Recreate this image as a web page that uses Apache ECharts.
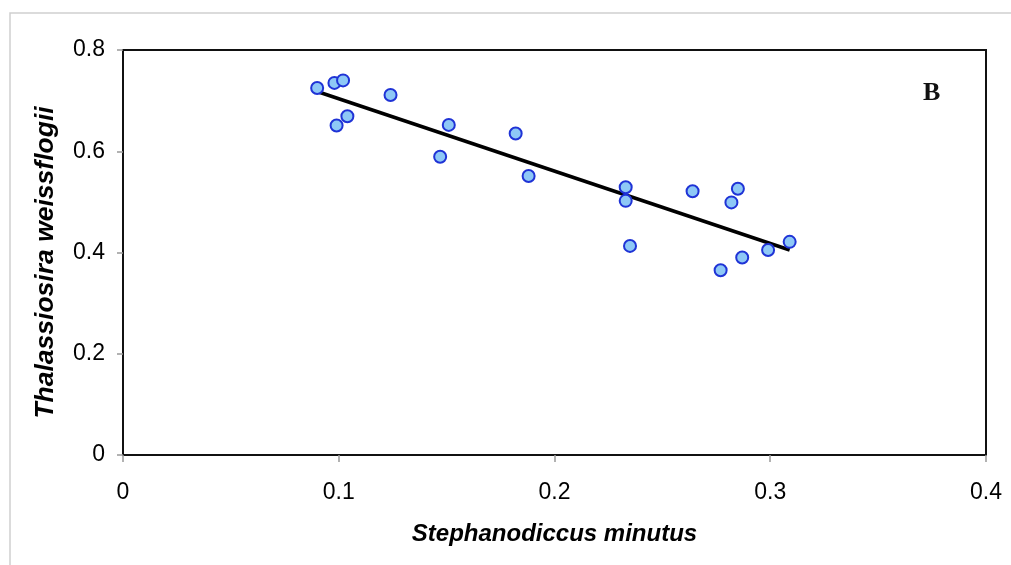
<!DOCTYPE html>
<html>
<head>
<meta charset="utf-8">
<script src="https://cdn.jsdelivr.net/npm/echarts@6/dist/echarts.min.js"></script>
<style>
  html, body { margin: 0; padding: 0; background: #fff; }
  #chart { width: 1011px; height: 565px; }
</style>
</head>
<body>
<div id="chart"></div>
<script>
// Stephanodiccus minutus (x) vs Thalassiosira weissflogii (y)
var xValues = [0.090, 0.098, 0.102, 0.099, 0.104, 0.124, 0.151, 0.147, 0.182, 0.188,
               0.233, 0.233, 0.235, 0.264, 0.285, 0.282, 0.277, 0.287, 0.299, 0.309];
var yValues = [0.725, 0.735, 0.740, 0.651, 0.669, 0.711, 0.652, 0.589, 0.635, 0.551,
               0.529, 0.502, 0.413, 0.521, 0.526, 0.499, 0.365, 0.390, 0.405, 0.421];
// regression line end points
var trendX = [0.090, 0.309];
var trendY = [0.718, 0.405];
var xTicks = [0, 0.1, 0.2, 0.3, 0.4];
var yTicks = [0, 0.2, 0.4, 0.6, 0.8];

var points = xValues.map(function (x, i) { return [x, yValues[i]]; });
var trend = trendX.map(function (x, i) { return [x, trendY[i]]; });

var font = 'Liberation Sans, Arial, sans-serif';

var chart = echarts.init(document.getElementById('chart'));
chart.setOption({
  animation: false,
  backgroundColor: '#fff',
  grid: {
    left: 123, top: 50, right: 25, bottom: 110,
    show: true, borderColor: '#111', borderWidth: 2
  },
  graphic: [
    {
      type: 'rect', silent: true, z: -1,
      shape: { x: 10, y: 13, width: 1100, height: 700 },
      style: { fill: 'none', stroke: '#cfcfcf', lineWidth: 1.5 }
    },
    {
      type: 'text', left: 923, top: 80,
      style: { text: 'B', font: 'bold 26px "Liberation Serif", "Times New Roman", serif', fill: '#111' }
    }
  ],
  xAxis: {
    type: 'value', min: xTicks[0], max: xTicks[xTicks.length - 1], interval: 0.1,
    name: 'Stephanodiccus minutus', nameLocation: 'middle', nameGap: 67,
    nameTextStyle: { fontFamily: font, fontSize: 24, fontWeight: 'bold', fontStyle: 'italic', color: '#000' },
    axisLine: { lineStyle: { color: '#111', width: 2 } },
    axisTick: { show: true, length: 7, inside: false, lineStyle: { color: '#999', width: 1.5 } },
    axisLabel: { fontFamily: font, fontSize: 23, color: '#000', margin: 26 },
    splitLine: { show: false }
  },
  yAxis: {
    type: 'value', min: yTicks[0], max: yTicks[yTicks.length - 1], interval: 0.2,
    name: 'Thalassiosira weissflogii', nameLocation: 'middle', nameGap: 64,
    nameTextStyle: { fontFamily: font, fontSize: 26.5, fontWeight: 'bold', fontStyle: 'italic', color: '#000',
                     padding: [0, 20, 0, 0] },
    axisLine: { lineStyle: { color: '#111', width: 2 } },
    axisTick: { show: true, length: 6, inside: false, lineStyle: { color: '#999', width: 1.5 } },
    axisLabel: { fontFamily: font, fontSize: 23, color: '#000', margin: 18 },
    splitLine: { show: false }
  },
  series: [
    {
      type: 'line', data: trend, symbol: 'none', z: 2,
      lineStyle: { color: '#000', width: 3.5 }
    },
    {
      type: 'scatter', data: points, symbol: 'circle', symbolSize: 12, z: 3,
      itemStyle: { color: '#8ec8f6', borderColor: '#1f33d6', borderWidth: 2, opacity: 1 }
    }
  ]
});
</script>
</body>
</html>
